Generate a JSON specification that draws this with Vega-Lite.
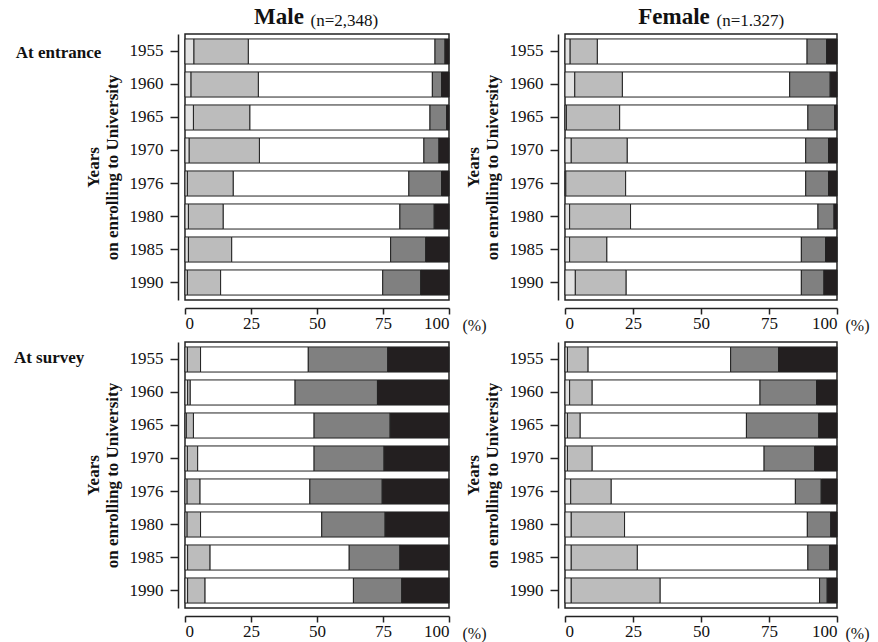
{
  "$schema": "https://vega.github.io/schema/vega-lite/v6.json",
  "padding": {"left": 13, "top": 5, "right": 0, "bottom": 0},
  "background": "white",
  "datasets": {
    "d": [
      {"sex":"Male","stage":"entrance","year":"1955","c1":3.4,"c2":20.6,"c3":70.7,"c4":3.8,"c5":1.5},
      {"sex":"Male","stage":"entrance","year":"1960","c1":2.3,"c2":25.5,"c3":65.9,"c4":3.5,"c5":2.8},
      {"sex":"Male","stage":"entrance","year":"1965","c1":3.2,"c2":21.4,"c3":68.2,"c4":6.3,"c5":0.9},
      {"sex":"Male","stage":"entrance","year":"1970","c1":1.6,"c2":26.6,"c3":62.3,"c4":5.7,"c5":3.8},
      {"sex":"Male","stage":"entrance","year":"1976","c1":0.9,"c2":17.4,"c3":66.5,"c4":12.4,"c5":2.8},
      {"sex":"Male","stage":"entrance","year":"1980","c1":1.3,"c2":13.2,"c3":66.9,"c4":13.0,"c5":5.6},
      {"sex":"Male","stage":"entrance","year":"1985","c1":1.3,"c2":16.4,"c3":60.2,"c4":13.3,"c5":8.8},
      {"sex":"Male","stage":"entrance","year":"1990","c1":0.9,"c2":12.6,"c3":61.4,"c4":14.4,"c5":10.7},
      {"sex":"Female","stage":"entrance","year":"1955","c1":1.9,"c2":10.0,"c3":77.1,"c4":7.2,"c5":3.8},
      {"sex":"Female","stage":"entrance","year":"1960","c1":3.6,"c2":17.5,"c3":61.5,"c4":14.9,"c5":2.5},
      {"sex":"Female","stage":"entrance","year":"1965","c1":0.5,"c2":19.6,"c3":69.2,"c4":9.8,"c5":0.9},
      {"sex":"Female","stage":"entrance","year":"1970","c1":2.3,"c2":20.6,"c3":65.6,"c4":8.4,"c5":3.1},
      {"sex":"Female","stage":"entrance","year":"1976","c1":0.3,"c2":22.0,"c3":66.2,"c4":8.4,"c5":3.1},
      {"sex":"Female","stage":"entrance","year":"1980","c1":1.7,"c2":22.4,"c3":68.9,"c4":5.9,"c5":1.1},
      {"sex":"Female","stage":"entrance","year":"1985","c1":1.7,"c2":13.7,"c3":71.5,"c4":8.9,"c5":4.2},
      {"sex":"Female","stage":"entrance","year":"1990","c1":3.8,"c2":18.7,"c3":64.4,"c4":8.3,"c5":4.8},
      {"sex":"Male","stage":"survey","year":"1955","c1":0.9,"c2":5.0,"c3":40.8,"c4":30.1,"c5":23.2},
      {"sex":"Male","stage":"survey","year":"1960","c1":1.0,"c2":1.0,"c3":39.7,"c4":31.2,"c5":27.1},
      {"sex":"Male","stage":"survey","year":"1965","c1":0.5,"c2":2.7,"c3":45.7,"c4":28.8,"c5":22.3},
      {"sex":"Male","stage":"survey","year":"1970","c1":0.9,"c2":3.9,"c3":44.1,"c4":26.5,"c5":24.6},
      {"sex":"Male","stage":"survey","year":"1976","c1":0.8,"c2":4.9,"c3":41.6,"c4":27.4,"c5":25.3},
      {"sex":"Male","stage":"survey","year":"1980","c1":0.8,"c2":5.1,"c3":45.9,"c4":24.0,"c5":24.2},
      {"sex":"Male","stage":"survey","year":"1985","c1":1.0,"c2":8.5,"c3":52.7,"c4":19.2,"c5":18.6},
      {"sex":"Male","stage":"survey","year":"1990","c1":1.0,"c2":6.6,"c3":56.2,"c4":18.3,"c5":17.9},
      {"sex":"Female","stage":"survey","year":"1955","c1":0.9,"c2":7.6,"c3":52.4,"c4":17.6,"c5":21.5},
      {"sex":"Female","stage":"survey","year":"1960","c1":1.7,"c2":8.3,"c3":61.7,"c4":20.8,"c5":7.5},
      {"sex":"Female","stage":"survey","year":"1965","c1":0.9,"c2":4.7,"c3":61.1,"c4":26.6,"c5":6.7},
      {"sex":"Female","stage":"survey","year":"1970","c1":0.9,"c2":9.1,"c3":63.2,"c4":18.6,"c5":8.2},
      {"sex":"Female","stage":"survey","year":"1976","c1":2.1,"c2":14.9,"c3":67.7,"c4":9.5,"c5":5.8},
      {"sex":"Female","stage":"survey","year":"1980","c1":2.3,"c2":19.6,"c3":67.2,"c4":8.6,"c5":2.3},
      {"sex":"Female","stage":"survey","year":"1985","c1":2.3,"c2":24.3,"c3":62.7,"c4":8.0,"c5":2.7},
      {"sex":"Female","stage":"survey","year":"1990","c1":2.3,"c2":32.7,"c3":58.6,"c4":2.8,"c5":3.6}
    ]
  },
  "data": {"name": "d"},
  "spacing": 7,
  "vconcat": [
    {
      "title": {"text": "At entrance", "orient": "left", "angle": 0, "anchor": "end", "align": "left", "baseline": "middle", "fontSize": 17, "fontWeight": "bold", "offset": -18, "dy": 48},
      "spacing": -24,
      "hconcat": [
        {
          "width": 264, "height": 266,
          "title": {"text": "Male", "fontSize": 23, "fontWeight": "bold", "dx": -38, "offset": -36, "baseline": "alphabetic"},
          "transform": [{"filter": "datum.sex == 'Male' && datum.stage == 'entrance'"}, {"fold": ["c1","c2","c3","c4","c5"], "as": ["cat","pct"]}],
          "layer": [
            {
              "mark": {"type": "bar", "stroke": "#222", "strokeWidth": 1},
              "encoding": {
                "y": {"field": "year", "type": "ordinal", "scale": {"paddingInner": 0.24, "paddingOuter": 0.15}, "axis": {"title": ["Years", "on enrolling to University"]}},
                "x": {"field": "pct", "type": "quantitative", "stack": "zero", "scale": {"domain": [0, 100], "nice": false}, "axis": {"values": [0,25,50,75,100], "title": "(%)", "titleX": 277, "titleY": 9, "titleAlign": "left", "titleBaseline": "top"}},
                "color": {"field": "cat", "type": "nominal", "scale": {"domain": ["c1","c2","c3","c4","c5"], "range": ["#e2e2e2","#bcbcbc","#ffffff","#808080","#231f20"]}, "legend": null},
                "order": {"field": "cat"}
              }
            },
            {
              "mark": {"type": "rule", "opacity": 0},
              "encoding": {"x": {"datum": 0, "type": "quantitative", "axis": {"orient": "top", "labels": false, "ticks": false, "domain": false, "offset": 0, "title": "(n=2,348)", "titleX": 125, "titleY": -9, "titleAlign": "left", "titleBaseline": "alphabetic", "titleFontSize": 17, "titleFontWeight": "normal"}}}
            }
          ],
          "resolve": {"axis": {"x": "independent"}}
        },
        {
          "width": 272, "height": 266,
          "title": {"text": "Female", "fontSize": 23, "fontWeight": "bold", "dx": -27, "offset": -36, "baseline": "alphabetic"},
          "transform": [{"filter": "datum.sex == 'Female' && datum.stage == 'entrance'"}, {"fold": ["c1","c2","c3","c4","c5"], "as": ["cat","pct"]}],
          "layer": [
            {
              "mark": {"type": "bar", "stroke": "#222", "strokeWidth": 1},
              "encoding": {
                "y": {"field": "year", "type": "ordinal", "scale": {"paddingInner": 0.24, "paddingOuter": 0.15}, "axis": {"title": ["Years", "on enrolling to University"]}},
                "x": {"field": "pct", "type": "quantitative", "stack": "zero", "scale": {"domain": [0, 100], "nice": false}, "axis": {"values": [0,25,50,75,100], "title": "(%)", "titleX": 280, "titleY": 9, "titleAlign": "left", "titleBaseline": "top"}},
                "color": {"field": "cat", "type": "nominal", "scale": {"domain": ["c1","c2","c3","c4","c5"], "range": ["#e2e2e2","#bcbcbc","#ffffff","#808080","#231f20"]}, "legend": null},
                "order": {"field": "cat"}
              }
            },
            {
              "mark": {"type": "rule", "opacity": 0},
              "encoding": {"x": {"datum": 0, "type": "quantitative", "axis": {"orient": "top", "labels": false, "ticks": false, "domain": false, "offset": 0, "title": "(n=1.327)", "titleX": 151, "titleY": -9, "titleAlign": "left", "titleBaseline": "alphabetic", "titleFontSize": 17, "titleFontWeight": "normal"}}}
            }
          ],
          "resolve": {"axis": {"x": "independent"}}
        }
      ]
    },
    {
      "title": {"text": "At survey", "orient": "left", "angle": 0, "anchor": "end", "align": "left", "baseline": "middle", "fontSize": 17, "fontWeight": "bold", "offset": -1, "dy": 17},
      "spacing": -24,
      "hconcat": [
        {
          "width": 264, "height": 266,
          "transform": [{"filter": "datum.sex == 'Male' && datum.stage == 'survey'"}, {"fold": ["c1","c2","c3","c4","c5"], "as": ["cat","pct"]}],
          "mark": {"type": "bar", "stroke": "#222", "strokeWidth": 1},
          "encoding": {
            "y": {"field": "year", "type": "ordinal", "scale": {"paddingInner": 0.24, "paddingOuter": 0.15}, "axis": {"title": ["Years", "on enrolling to University"]}},
            "x": {"field": "pct", "type": "quantitative", "stack": "zero", "scale": {"domain": [0, 100], "nice": false}, "axis": {"values": [0,25,50,75,100], "title": "(%)", "titleX": 277, "titleY": 9, "titleAlign": "left", "titleBaseline": "top"}},
            "color": {"field": "cat", "type": "nominal", "scale": {"domain": ["c1","c2","c3","c4","c5"], "range": ["#e2e2e2","#bcbcbc","#ffffff","#808080","#231f20"]}, "legend": null},
            "order": {"field": "cat"}
          }
        },
        {
          "width": 272, "height": 266,
          "transform": [{"filter": "datum.sex == 'Female' && datum.stage == 'survey'"}, {"fold": ["c1","c2","c3","c4","c5"], "as": ["cat","pct"]}],
          "mark": {"type": "bar", "stroke": "#222", "strokeWidth": 1},
          "encoding": {
            "y": {"field": "year", "type": "ordinal", "scale": {"paddingInner": 0.24, "paddingOuter": 0.15}, "axis": {"title": ["Years", "on enrolling to University"]}},
            "x": {"field": "pct", "type": "quantitative", "stack": "zero", "scale": {"domain": [0, 100], "nice": false}, "axis": {"values": [0,25,50,75,100], "title": "(%)", "titleX": 280, "titleY": 9, "titleAlign": "left", "titleBaseline": "top"}},
            "color": {"field": "cat", "type": "nominal", "scale": {"domain": ["c1","c2","c3","c4","c5"], "range": ["#e2e2e2","#bcbcbc","#ffffff","#808080","#231f20"]}, "legend": null},
            "order": {"field": "cat"}
          }
        }
      ]
    }
  ],
  "config": {
    "font": "Liberation Serif",
    "view": {"stroke": "#222", "strokeWidth": 1.5},
    "title": {"color": "#111"},
    "axis": {"grid": false, "domainColor": "#222", "tickColor": "#222", "labelColor": "#111", "titleColor": "#111", "labelFontSize": 17, "titleFontSize": 16},
    "axisX": {"offset": 8, "tickSize": 6, "labelPadding": 1, "domainWidth": 1.5, "tickWidth": 1.5, "titleFontWeight": "normal"},
    "axisY": {"offset": 7, "tickSize": 8, "labelPadding": 7, "domainWidth": 1.5, "tickWidth": 1.5, "titleFontWeight": "bold", "titleFontSize": 17, "titlePadding": 8, "titleLineHeight": 19}
  }
}
